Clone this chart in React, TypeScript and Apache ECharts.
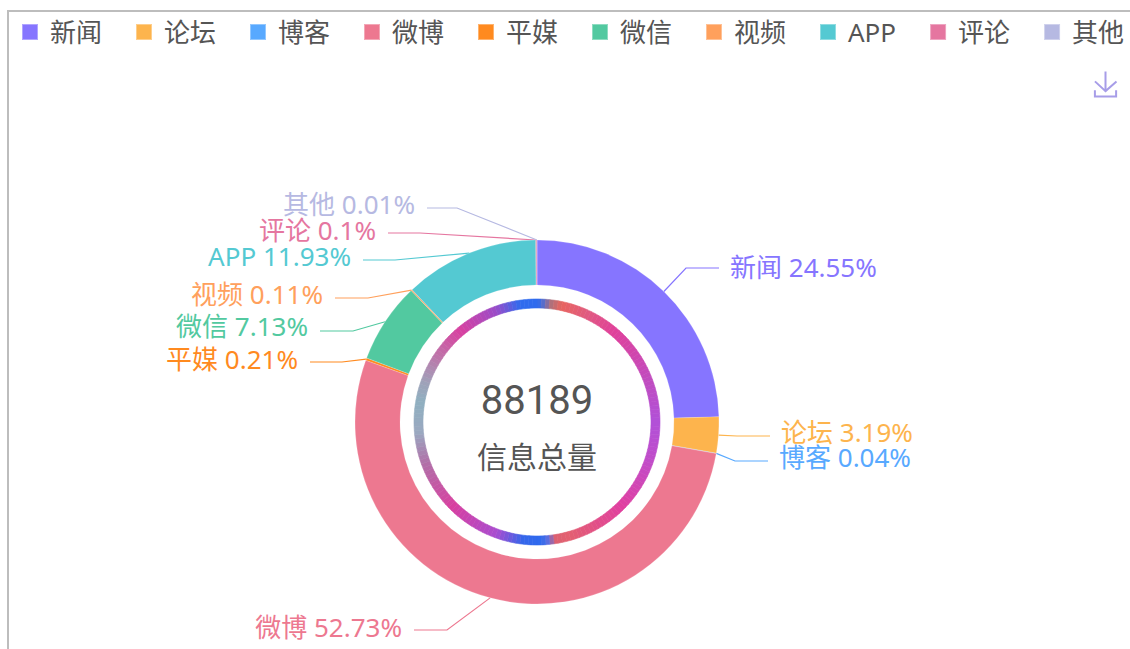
import React, { useEffect, useRef } from "react";
import * as echarts from "echarts";

const categories = ["新闻", "论坛", "博客", "微博", "平媒", "微信", "视频", "APP", "评论", "其他"];
const values = [21650, 2813, 35, 46502, 185, 6288, 97, 10521, 88, 10];
const colors = ["#8675ff", "#fdb44d", "#58a9ff", "#ed7890", "#ff8a1f", "#52c9a0", "#ffa05c", "#54c9d2", "#e576a0", "#b6b9e2"];
const totalLabel = "88189";
const totalCaption = "信息总量";

// Label placement, in the same order as the categories: line end x, elbow x, line y, text y.
const lineEndX = [719, 770, 768, 414, 310, 320, 335, 363, 388, 427];
const elbowX = [686, 737, 735, 447, 342, 353, 368, 395, 420, 457];
const lineY = [268, 436, 461, 630, 362, 331, 298, 260, 233, 208];
const textY = [267, 432, 457, 627, 359, 326, 294, 256, 230, 204];

const ringAngles = [0, 2, 7, 12, 25, 40, 70, 90, 110, 135, 165, 171, 175, 178, 187, 200, 225, 250, 265, 280, 290, 305, 320, 340, 352, 360];
const ringColors = [
  "#2f6bee", "#3f6ce0", "#b0707a", "#e8655f", "#e05a80", "#e0409a", "#c04cc0", "#b150d8", "#c24cc8", "#e03fa0",
  "#e36070", "#dc6070", "#5a6ee0", "#2f6bee", "#3566ea", "#a84cd0", "#d840a0", "#b070a8", "#9aa8c0", "#8fb0c0",
  "#a0a0b8", "#c070a8", "#d840a0", "#9a4cc8", "#2f6bee", "#2f6bee",
];

function hexToRgb(h: string) {
  return [1, 3, 5].map((i) => parseInt(h.slice(i, i + 2), 16));
}
function ringColorAt(a: number) {
  let i = 0;
  while (i < ringAngles.length - 2 && ringAngles[i + 1] <= a) i++;
  const t = (a - ringAngles[i]) / (ringAngles[i + 1] - ringAngles[i]);
  const c0 = hexToRgb(ringColors[i]);
  const c1 = hexToRgb(ringColors[i + 1]);
  return `rgb(${c0.map((v, k) => Math.round(v + (c1[k] - v) * t)).join(",")})`;
}
const ringSegments = Array.from({ length: 180 }, (_, i) => {
  const color = ringColorAt(i * 2 + 1);
  return { value: 2, name: "", itemStyle: { color, borderColor: color, borderWidth: 0.6 } };
});

const FONT = '"Noto Sans", "Noto Sans CJK SC", sans-serif';

export default function App() {
  const ref = useRef<HTMLDivElement>(null);
  useEffect(() => {
    const chart = echarts.init(ref.current!, undefined, { renderer: "svg" });
    chart.setOption({
      animation: false,
      backgroundColor: "#fff",
      color: colors,
      legend: {
        data: categories,
        left: 21,
        top: 19,
        padding: 0,
        width: 1109,
        itemWidth: 16,
        itemHeight: 16,
        itemGap: 33,
        icon: "rect",
        textStyle: { color: "#555", fontSize: 26, fontFamily: FONT, width: 52, padding: [0, 0, 0, 7] },
      },
      toolbox: {
        right: 11,
        top: 69,
        padding: 0,
        itemSize: 25,
        feature: { saveAsImage: { title: "" } },
        iconStyle: { borderColor: "#a79de8", color: "none", borderWidth: 2 },
      },
      graphic: [
        { type: "rect", shape: { x: 7, y: 10, width: 1123, height: 2 }, style: { fill: "#bdbdbd" } },
        { type: "rect", shape: { x: 7, y: 10, width: 2, height: 639 }, style: { fill: "#bdbdbd" } },
        { type: "text", x: 537, y: 400, style: { text: totalLabel, fontSize: 40, fill: "#555", textAlign: "center", textVerticalAlign: "middle", fontFamily: "Roboto" } },
        { type: "text", x: 537, y: 456, style: { text: totalCaption, fontSize: 30, fill: "#555", textAlign: "center", textVerticalAlign: "middle", fontFamily: FONT } },
      ],
      series: [
        {
          type: "pie",
          center: [537, 422],
          radius: [137, 182],
          startAngle: 90,
          clockwise: true,
          percentPrecision: 2,
          itemStyle: { borderColor: "rgba(255,255,255,0.35)", borderWidth: 0.5 },
          label: {
            formatter: "{b} {d}%",
            fontSize: 26,
            fontFamily: FONT,
          },
          labelLine: { length: 32, length2: 33, lineStyle: { width: 1.2 } },
          labelLayout: (params: any) => {
            const i = params.dataIndex;
            const onRight = lineEndX[i] > 537;
            const start = params.labelLinePoints ? params.labelLinePoints[0] : [537, 240];
            return {
              x: lineEndX[i] + (onRight ? 11 : -12),
              y: textY[i],
              align: onRight ? "left" : "right",
              verticalAlign: "middle",
              hideOverlap: false,
              labelLinePoints: [start, [elbowX[i], lineY[i]], [lineEndX[i], lineY[i]]],
            };
          },
          data: categories.map((name, i) => ({
            name,
            value: values[i],
            label: { color: colors[i] },
            labelLine: { lineStyle: { color: colors[i] } },
          })),
        },
        {
          type: "pie",
          center: [537, 422],
          radius: [114, 123],
          startAngle: 90,
          clockwise: true,
          silent: true,
          label: { show: false },
          labelLine: { show: false },
          data: ringSegments,
        },
      ],
    });
    return () => chart.dispose();
  }, []);
  return <div ref={ref} style={{ position: "absolute", left: 0, top: 0, width: 1130, height: 649 }} />;
}
